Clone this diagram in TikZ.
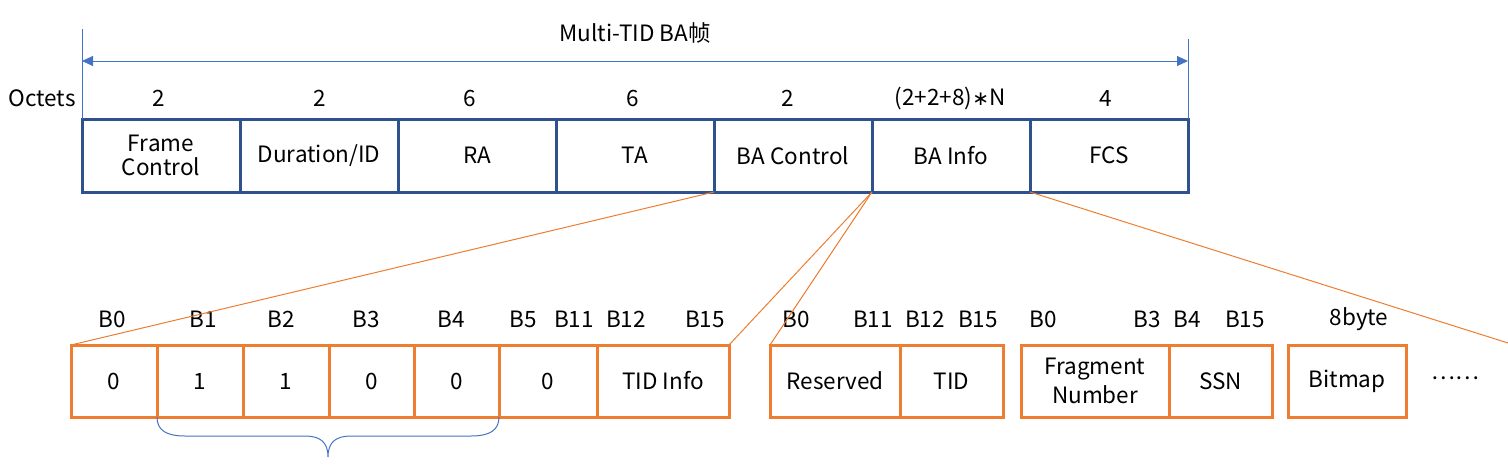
\documentclass[tikz,border=0pt]{standalone}
\usepackage{fontspec}
\setmainfont{Noto Sans CJK SC}
\newfontfamily\symfont{DejaVu Sans}
\usetikzlibrary{arrows.meta}
\definecolor{frameblue}{HTML}{2F528F}
\definecolor{lightblue}{HTML}{4472C4}
\definecolor{orangec}{HTML}{ED7D31}
\tikzset{
  txt/.style={font=\fontsize{22.5}{28.5}\selectfont, inner sep=0pt, align=center},
  field/.style={txt, draw=frameblue, line width=3pt, minimum height=73pt, outer sep=0pt},
  cell/.style={txt, draw=orangec, line width=3pt, minimum height=72pt, outer sep=0pt},
  zoomline/.style={draw=orangec, line width=1pt},
  blueline/.style={draw=lightblue, line width=1pt},
}
\begin{document}
\begin{tikzpicture}[x=1pt,y=-1pt]
\useasboundingbox (0,0) rectangle (1508,472);
% top frame
\node[field, minimum width=158pt] (fc)  at (161,155.5) {\raisebox{-2pt}{\shortstack{Frame\\[3pt]Control}}};
\node[field, minimum width=158pt] (dur) at (319,155.5) {Duration/ID};
\node[field, minimum width=158pt] (ra)  at (477,155.5) {RA};
\node[field, minimum width=158pt] (ta)  at (635,155.5) {TA};
\node[field, minimum width=158pt] (bac) at (793,155.5) {BA Control};
\node[field, minimum width=158pt] (bai) at (951,155.5) {BA Info};
\node[field, minimum width=158pt] (fcs) at (1109,155.5) {FCS};
% octets
\node[txt] (oct) at (42,98) {Octets};
\node[txt] (n1) at (159,98) {2};
\node[txt] (n2) at (320,98) {2};
\node[txt] (n3) at (470,98) {6};
\node[txt] (n4) at (633,98) {6};
\node[txt] (n5) at (788,98) {2};
\node[txt] (n6) at (950,98) {(2+2+8){\symfont\fontsize{20}{24}\selectfont ∗}N};
\node[txt] (n7) at (1106,98) {4};
% top dimension arrow
\coordinate (tL) at (82,29);
\coordinate (tR) at (1188,39);
\coordinate (aL) at (82,61);
\coordinate (aR) at (1188,61);
\draw[blueline] (fc.north west) -- (tL);
\draw[blueline] (fcs.north east) -- (tR);
\draw[blueline, {Triangle[length=11pt,width=10pt]}-{Triangle[length=11pt,width=10pt]}] (aL) -- (aR);
\node[txt] (title) at (635,33) {Multi-TID BA帧};
% group 1 : BA Control
\node[cell, minimum width=86pt] (g1a) at (114,381) {0};
\node[cell, minimum width=86pt] (g1b) at (200,381) {1};
\node[cell, minimum width=86pt] (g1c) at (286,381) {1};
\node[cell, minimum width=85pt] (g1d) at (371.5,381) {0};
\node[cell, minimum width=85pt] (g1e) at (456.5,381) {0};
\node[cell, minimum width=98pt] (g1f) at (548,381) {0};
\node[cell, minimum width=132pt] (g1g) at (663,381) {TID Info};
\foreach \t/\x in {B0/112,B1/203,B2/281,B3/366,B4/451,B5/523,B11/574,B12/626,B15/705}
  \node[txt] (l1\t) at (\x,319) {\t};
% group 2 : TID info
\node[cell, minimum width=130pt] (g2a) at (835,381) {Reserved};
\node[cell, minimum width=103pt] (g2b) at (951.5,381) {TID};
\foreach \t/\x in {B0/796,B11/873,B12/925,B15/978}
  \node[txt] (l2\t) at (\x,319) {\t};
% group 3 : SSC
\node[cell, minimum width=148pt] (g3a) at (1095,381) {\raisebox{-1pt}{\shortstack{Fragment\\[3pt]Number}}};
\node[cell, minimum width=103pt] (g3b) at (1220.5,381) {SSN};
\foreach \t/\x in {B0/1043,B3/1147,B4/1187,B15/1245}
  \node[txt] (l3\t) at (\x,319) {\t};
% bitmap
\node[cell, minimum width=118pt] (bm) at (1347,381) {Bitmap};
\node[txt] (l4) at (1359,319) {8byte};
\node[txt] (dots) at (1455,378) {……};
% zoom lines
\coordinate (endR) at (1508,343);
\draw[zoomline] (bac.south west) -- (g1a.north west);
\draw[zoomline] (bai.south west) -- (g1g.north east);
\draw[zoomline] (bai.south west) -- (g2a.north west);
\draw[zoomline] (fcs.south west) -- (endR);
% brace
\coordinate (brL) at (g1b.south west);
\coordinate (brR) at (g1e.south east);
\coordinate (brT) at (328,457);
\draw[blueline] (brL) .. controls (157,430) and (166,436) .. (185,436) -- (305,436)
  .. controls (320,436) and (328,442) .. (brT)
  .. controls (328,442) and (336,436) .. (351,436) -- (471,436)
  .. controls (490,436) and (499,430) .. (brR);
\end{tikzpicture}
\end{document}
